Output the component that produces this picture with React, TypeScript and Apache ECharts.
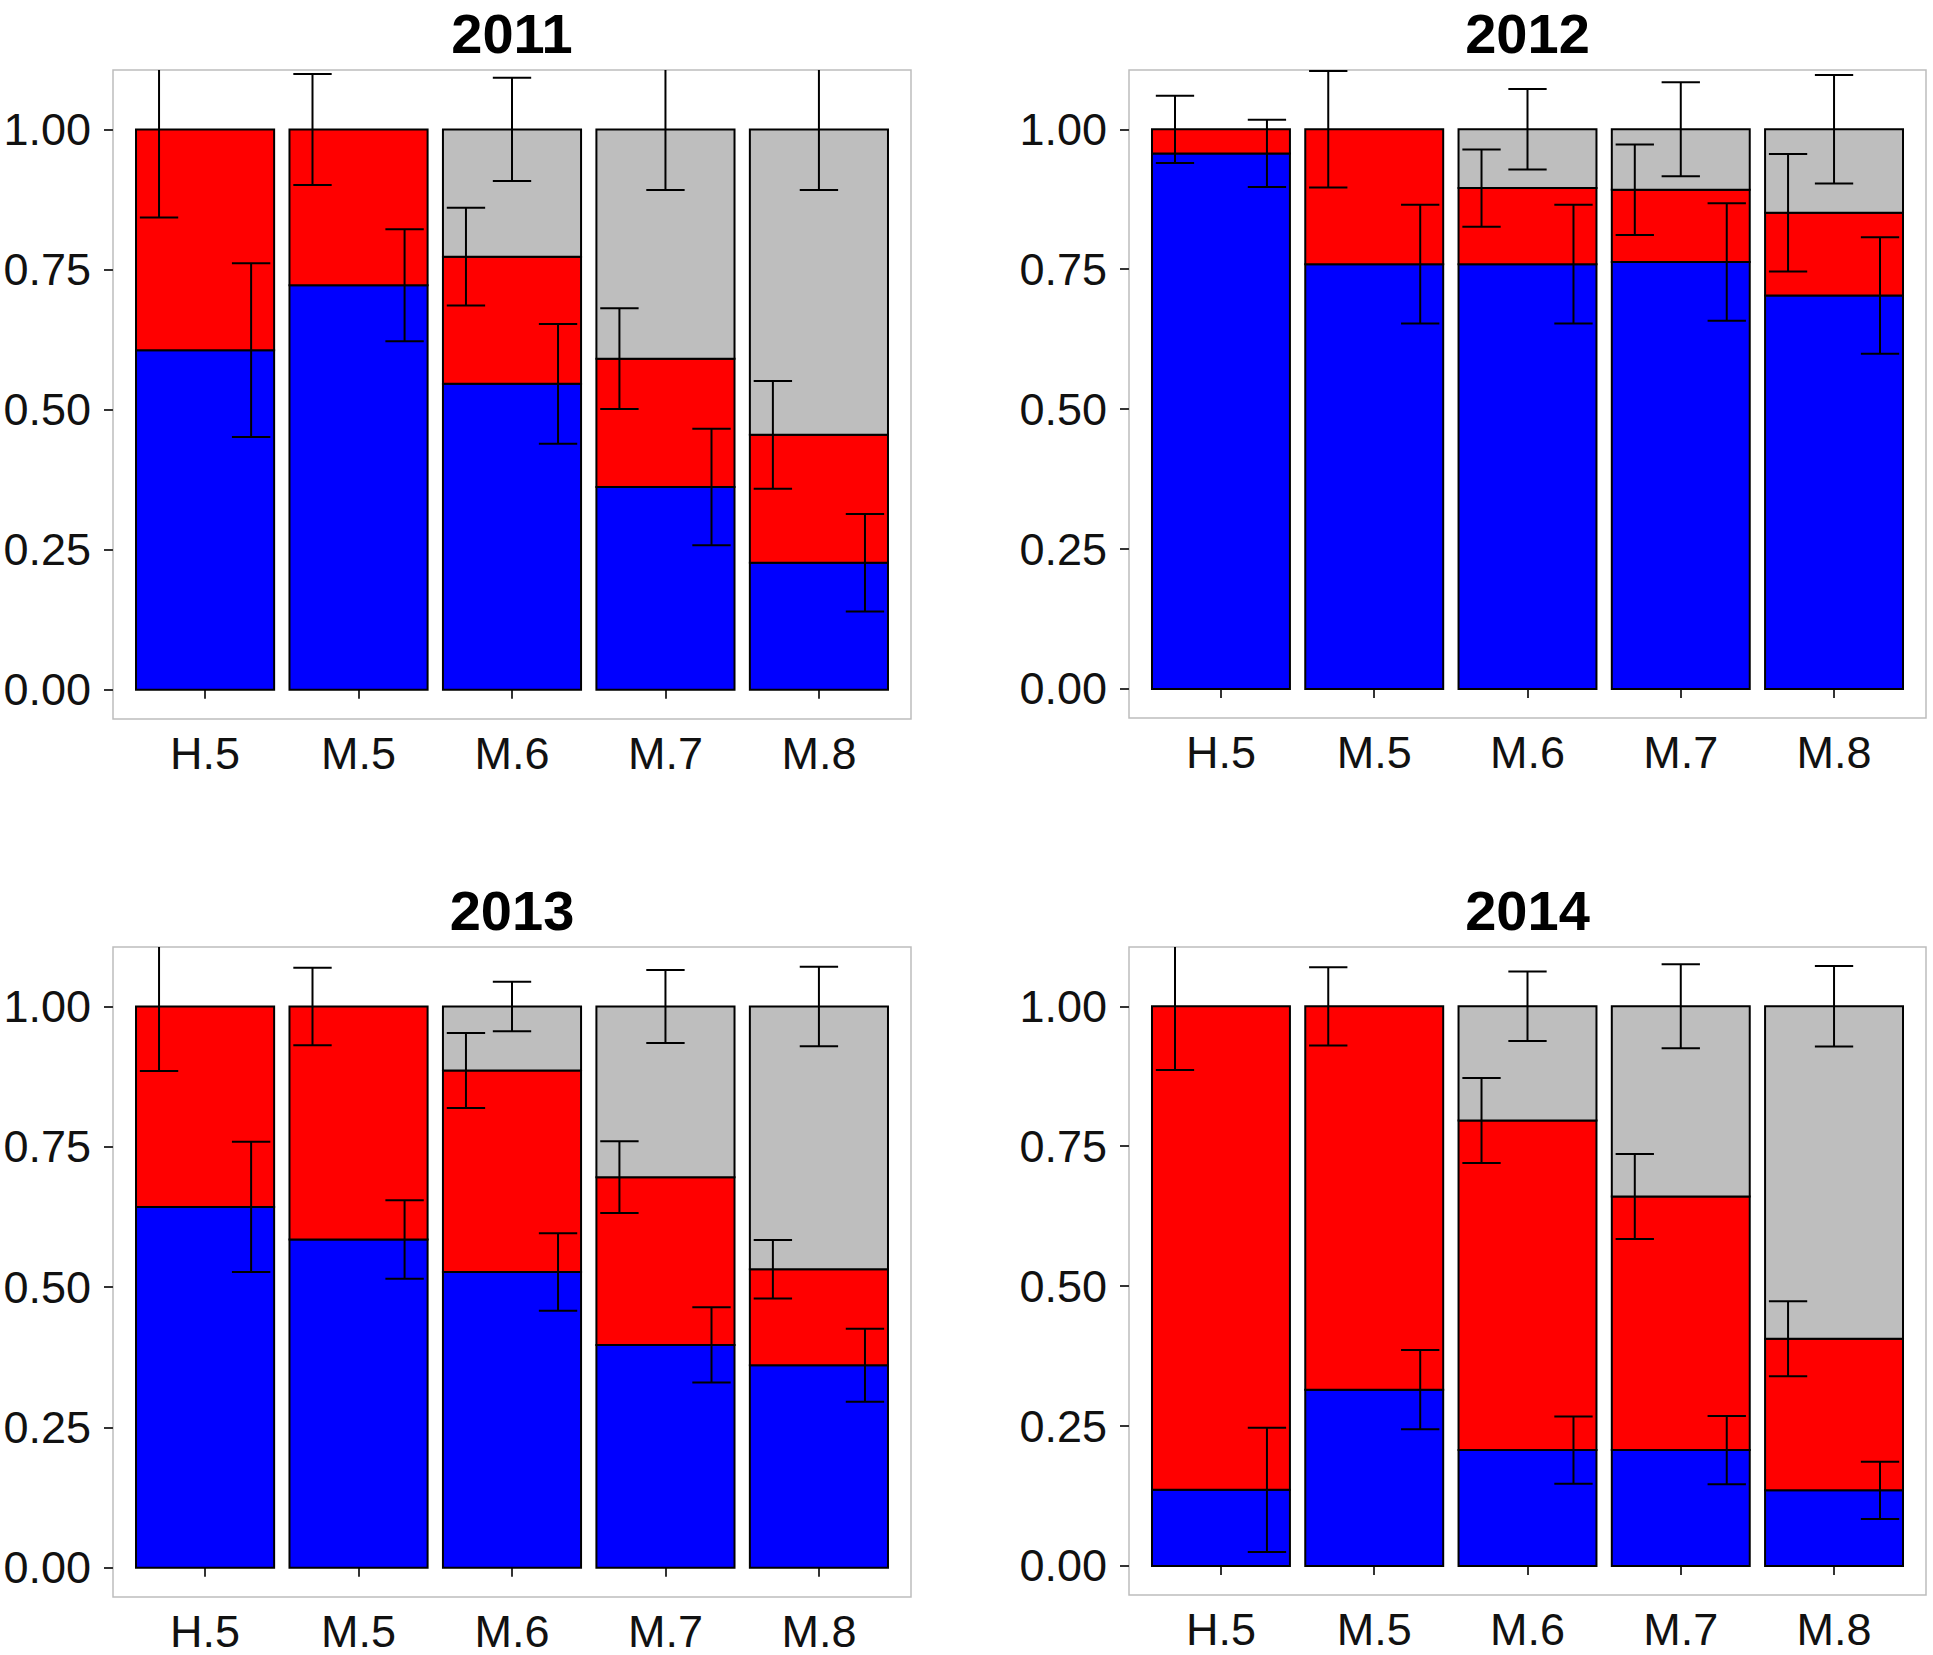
import React, { useEffect, useRef } from "react";
import * as echarts from "echarts";

const categories = ["H.5", "M.5", "M.6", "M.7", "M.8"];
const years = ["2011", "2012", "2013", "2014"];
const yTicks = [0, 0.25, 0.5, 0.75, 1];

// segment proportions (bottom to top: blue, red, gray)
const blue2011 = [0.606, 0.722, 0.546, 0.362, 0.227];
const red2011 = [0.394, 0.278, 0.227, 0.229, 0.228];
const gray2011 = [0, 0, 0.227, 0.409, 0.545];
const blue2012 = [0.957, 0.759, 0.759, 0.763, 0.703];
const red2012 = [0.043, 0.241, 0.136, 0.129, 0.148];
const gray2012 = [0, 0, 0.105, 0.108, 0.149];
const blue2013 = [0.643, 0.585, 0.527, 0.397, 0.361];
const red2013 = [0.357, 0.415, 0.359, 0.299, 0.171];
const gray2013 = [0, 0, 0.114, 0.304, 0.468];
const blue2014 = [0.136, 0.315, 0.207, 0.207, 0.135];
const red2014 = [0.864, 0.685, 0.589, 0.453, 0.271];
const gray2014 = [0, 0, 0.204, 0.34, 0.594];

// error half-widths, centred on the cumulative top of each segment
const blueErr2011 = [0.155, 0.1, 0.107, 0.104, 0.087];
const redErr2011 = [0.157, 0.099, 0.087, 0.09, 0.096];
const grayErr2011 = [0, 0, 0.092, 0.108, 0.108];
const blueErr2012 = [0.06, 0.106, 0.106, 0.105, 0.104];
const redErr2012 = [0.06, 0.104, 0.069, 0.081, 0.105];
const grayErr2012 = [0, 0, 0.072, 0.084, 0.097];
const blueErr2013 = [0.116, 0.07, 0.069, 0.067, 0.065];
const redErr2013 = [0.115, 0.069, 0.067, 0.064, 0.052];
const grayErr2013 = [0, 0, 0.044, 0.065, 0.071];
const blueErr2014 = [0.111, 0.071, 0.06, 0.061, 0.051];
const redErr2014 = [0.114, 0.07, 0.076, 0.076, 0.067];
const grayErr2014 = [0, 0, 0.062, 0.075, 0.072];

const panels = [
  { blue: blue2011, red: red2011, gray: gray2011, be: blueErr2011, re: redErr2011, ge: grayErr2011 },
  { blue: blue2012, red: red2012, gray: gray2012, be: blueErr2012, re: redErr2012, ge: grayErr2012 },
  { blue: blue2013, red: red2013, gray: gray2013, be: blueErr2013, re: redErr2013, ge: grayErr2013 },
  { blue: blue2014, red: red2014, gray: gray2014, be: blueErr2014, re: redErr2014, ge: grayErr2014 },
];

const YMIN = -0.052;
const YMAX = 1.106;
const XMIN = 0.4;
const XMAX = 5.6;
const BAR_W = 0.9;
const CAP_W = 0.25;
const DODGE = 0.3;

const gridBoxes = [
  { left: 113, top: 70, width: 798, height: 649 },
  { left: 1129, top: 70, width: 797, height: 648 },
  { left: 113, top: 947, width: 798, height: 650 },
  { left: 1129, top: 947, width: 797, height: 648 },
];

const FONT = "'Liberation Sans', Arial, sans-serif";

function barSeries(gi: number, color: string, segs: number[][]) {
  return {
    type: "custom",
    xAxisIndex: gi,
    yAxisIndex: gi,
    z: 2,
    encode: { x: 0, y: [1, 2] },
    data: segs,
    renderItem: (params: any, api: any) => {
      const x = api.value(0);
      const y0 = api.value(1);
      const y1 = api.value(2);
      const p0 = api.coord([x - BAR_W / 2, y0]);
      const p1 = api.coord([x + BAR_W / 2, y1]);
      return {
        type: "rect",
        shape: { x: p0[0], y: p1[1], width: p1[0] - p0[0], height: p0[1] - p1[1] },
        style: { fill: color, stroke: "#000", lineWidth: 2 },
      };
    },
  };
}

function errSeries(gi: number, pts: number[][]) {
  return {
    type: "custom",
    xAxisIndex: gi,
    yAxisIndex: gi,
    z: 3,
    encode: { x: 0, y: 1 },
    data: pts,
    renderItem: (params: any, api: any) => {
      const x = api.value(0);
      const c = api.value(1);
      const e = api.value(2);
      const lo = c - e;
      const hi = c + e;
      const pLo = api.coord([x, Math.max(lo, YMIN)]);
      const pHi = api.coord([x, Math.min(hi, YMAX)]);
      const half = api.coord([x + CAP_W / 2, c])[0] - api.coord([x, c])[0];
      const st = { stroke: "#000", lineWidth: 2 };
      const children: any[] = [
        { type: "line", shape: { x1: pLo[0], y1: pLo[1], x2: pHi[0], y2: pHi[1] }, style: st },
      ];
      if (lo >= YMIN)
        children.push({ type: "line", shape: { x1: pLo[0] - half, y1: pLo[1], x2: pLo[0] + half, y2: pLo[1] }, style: st });
      if (hi <= YMAX)
        children.push({ type: "line", shape: { x1: pHi[0] - half, y1: pHi[1], x2: pHi[0] + half, y2: pHi[1] }, style: st });
      return { type: "group", children };
    },
  };
}

function buildOption() {
  const grid: any[] = [];
  const xAxis: any[] = [];
  const yAxis: any[] = [];
  const series: any[] = [];
  const graphic: any[] = [];
  const xPos = categories.map((_, i) => i + 1);

  panels.forEach((p, gi) => {
    const g = gridBoxes[gi];
    grid.push({
      ...g,
      show: true,
      borderColor: "#bdbdbd",
      borderWidth: 1.5,
      backgroundColor: "#fff",
      containLabel: false,
    });
    xAxis.push({
      type: "value",
      gridIndex: gi,
      min: XMIN,
      max: XMAX,
      axisLine: { show: false },
      splitLine: { show: false },
      axisTick: {
        show: true,
        customValues: xPos,
        length: 9,
        lineStyle: { color: "#333", width: 2 },
      },
      axisLabel: {
        show: true,
        customValues: xPos,
        formatter: (v: number) => categories[Math.round(v) - 1] ?? "",
        fontSize: 45,
        lineHeight: 40,
        fontFamily: FONT,
        color: "#111",
        margin: 14,
      },
    });
    yAxis.push({
      type: "value",
      gridIndex: gi,
      min: YMIN,
      max: YMAX,
      axisLine: { show: false },
      splitLine: { show: false },
      axisTick: {
        show: true,
        customValues: yTicks,
        length: 9,
        lineStyle: { color: "#333", width: 2 },
      },
      axisLabel: {
        show: true,
        customValues: yTicks,
        formatter: (v: number) => v.toFixed(2),
        fontSize: 45,
        fontFamily: FONT,
        color: "#111",
        margin: 22,
      },
    });

    const blueSegs: number[][] = [];
    const redSegs: number[][] = [];
    const graySegs: number[][] = [];
    const errPts: number[][] = [];
    categories.forEach((_, i) => {
      const x = i + 1;
      const b = p.blue[i];
      const r = p.red[i];
      const gr = p.gray[i];
      blueSegs.push([x, 0, b]);
      if (r > 0) redSegs.push([x, b, b + r]);
      if (gr > 0) graySegs.push([x, b + r, b + r + gr]);
      if (r > 0) errPts.push([x - DODGE, b + r, p.re[i]]);
      if (gr > 0) errPts.push([x, b + r + gr, p.ge[i]]);
      errPts.push([x + DODGE, b, p.be[i]]);
    });
    series.push(barSeries(gi, "#0000ff", blueSegs));
    series.push(barSeries(gi, "#ff0000", redSegs));
    series.push(barSeries(gi, "#bebebe", graySegs));
    series.push(errSeries(gi, errPts));

    graphic.push({
      type: "text",
      x: g.left + g.width / 2,
      y: g.top - 37,
      style: {
        text: years[gi],
        fontSize: 56,
        lineHeight: 56,
        fontWeight: "bold",
        fontFamily: FONT,
        fill: "#000",
        textAlign: "center",
        textVerticalAlign: "middle",
      },
    });
  });

  return {
    animation: false,
    backgroundColor: "#fff",
    grid,
    xAxis,
    yAxis,
    series,
    graphic,
  };
}

export default function App() {
  const ref = useRef<HTMLDivElement>(null);
  useEffect(() => {
    document.body.style.margin = "0";
    document.body.style.overflow = "hidden";
    if (!ref.current) return;
    const chart = echarts.init(ref.current, null, { renderer: "svg" });
    chart.setOption(buildOption() as any);
    return () => chart.dispose();
  }, []);
  return <div ref={ref} style={{ width: 1933, height: 1655, background: "#fff" }} />;
}
